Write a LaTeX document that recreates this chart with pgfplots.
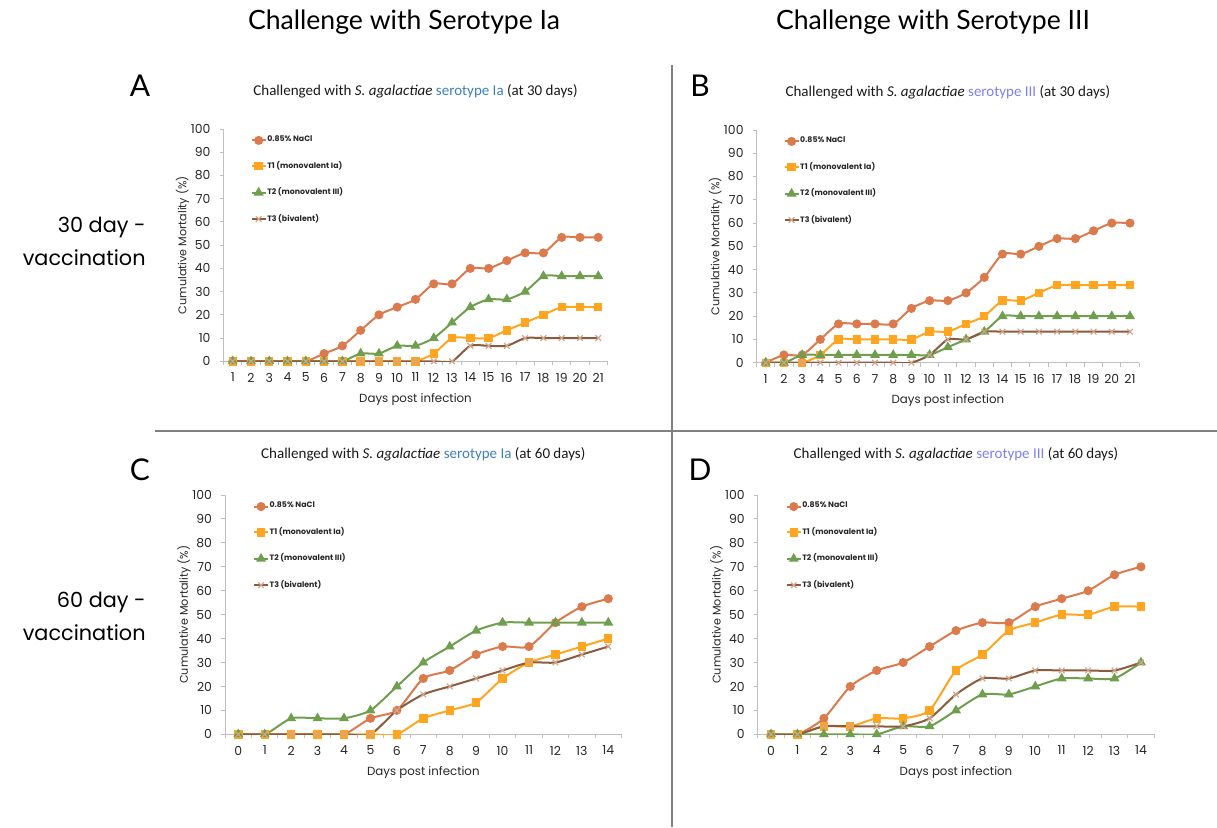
\documentclass[border=0pt]{standalone}
\usepackage{pgfplots}
\pgfplotsset{compat=1.18}
\usepackage{pgfplotstable}
\usepackage{fontspec}
\setmainfont{Poppins}
\newfontfamily\hdr{Lato}
\newfontfamily\ttl{Carlito}
\definecolor{cNaCl}{HTML}{DB7B4D}
\definecolor{cT1}{HTML}{FFA51F}
\definecolor{cT2}{HTML}{6E9E4E}
\definecolor{cT3}{HTML}{8B5B3D}
\definecolor{cT3m}{HTML}{D2A48C}
\definecolor{blueA}{HTML}{3F7FBF}
\definecolor{blueB}{HTML}{7F7FF5}
\definecolor{axgray}{HTML}{BFBFBF}

\pgfplotstableread{
day nacl t1 t2 t3
1 0 0 0 0
2 0 0 0 0
3 0 0 0 0
4 0 0 0 0
5 0 0 0 0
6 3.33 0 0 0
7 6.67 0 0 0
8 13.33 0 3.33 0
9 20 0 3.33 0
10 23.33 0 6.67 0
11 26.67 0 6.67 0
12 33.33 3.33 10 0
13 33.33 10 16.67 0
14 40 10 23.33 6.67
15 40 10 26.67 6.67
16 43.33 13.33 26.67 6.67
17 46.67 16.67 30 10
18 46.67 20 36.67 10
19 53.33 23.33 36.67 10
20 53.33 23.33 36.67 10
21 53.33 23.33 36.67 10
}\dataA
\pgfplotstableread{
day nacl t1 t2 t3
1 0 0 0 0
2 3.33 0 0 0
3 3.33 0 3.33 0
4 10 3.33 3.33 0
5 16.67 10 3.33 0
6 16.67 10 3.33 0
7 16.67 10 3.33 0
8 16.67 10 3.33 0
9 23.33 10 3.33 0
10 26.67 13.33 3.33 3.33
11 26.67 13.33 6.67 10
12 30 16.67 10 10
13 36.67 20 13.33 13.33
14 46.67 26.67 20 13.33
15 46.67 26.67 20 13.33
16 50 30 20 13.33
17 53.33 33.33 20 13.33
18 53.33 33.33 20 13.33
19 56.67 33.33 20 13.33
20 60 33.33 20 13.33
21 60 33.33 20 13.33
}\dataB
\pgfplotstableread{
day nacl t1 t2 t3
0 0 0 0 0
1 0 0 0 0
2 0 0 6.67 0
3 0 0 6.67 0
4 0 0 6.67 0
5 6.67 0 10 0
6 10 0 20 10
7 23.33 6.67 30 16.67
8 26.67 10 36.67 20
9 33.33 13.33 43.33 23.33
10 36.67 23.33 46.67 26.67
11 36.67 30 46.67 30
12 46.67 33.33 46.67 30
13 53.33 36.67 46.67 33.33
14 56.67 40 46.67 36.67
}\dataC
\pgfplotstableread{
day nacl t1 t2 t3
0 0 0 0 0
1 0 0 0 0
2 6.67 3.33 0 3.33
3 20 3.33 0 3.33
4 26.67 6.67 0 3.33
5 30 6.67 3.33 3.33
6 36.67 10 3.33 6.67
7 43.33 26.67 10 16.67
8 46.67 33.33 16.67 23.33
9 46.67 43.33 16.67 23.33
10 53.33 46.67 20 26.67
11 56.67 50 23.33 26.67
12 60 50 23.33 26.67
13 66.67 53.33 23.33 26.67
14 70 53.33 30 30
}\dataD

\pgfplotsset{
  panel/.style={
    scale only axis, anchor=south west,
    ymin=0, ymax=100, ytick={0,10,...,100},
    axis x line*=bottom, axis y line*=left,
    axis line style={draw=axgray, line width=0.6pt},
    tick align=outside, major tick length=2pt, minor tick length=2pt,
    tick style={draw=axgray, line width=0.5pt},
    major x tick style={draw=none},
    tick label style={font=\fontsize{6.2}{6.5}\selectfont, text=black!85},
    /pgf/number format/assume math mode=true,
    yticklabel style={xshift=-1pt},
    xticklabel style={yshift=-0.3pt},
    xlabel={Days post infection}, ylabel={Cumulative Mortality (\%)},
    every axis x label/.style={at={(axis description cs:0.5,0)}, anchor=center, yshift=-18.9pt, font=\fontsize{5.9}{6.5}\selectfont, text=black!85},
    every axis y label/.style={at={(axis description cs:0,0.5)}, xshift=-20.5pt, anchor=center, rotate=90, font=\fontsize{5.6}{6.5}\selectfont, text=black!85},
    title style={at={(axis description cs:0.5,1)}, anchor=center, yshift=13pt, font=\ttl\fontsize{7.5}{8}\selectfont, text=black!90},
    legend style={at={(0.07,0.975)}, anchor=north west, draw=none, fill=none,
      font=\fontsize{3.9}{4.2}\selectfont\bfseries, text=black!85, row sep=7.35pt, inner sep=0pt,
      nodes={inner sep=0.4pt}},
    legend cell align=left,
    legend image code/.code={\draw[#1, mark repeat=2, mark phase=2] plot coordinates {(0pt,0pt) (3.4pt,0pt) (6.8pt,0pt)};},
    every axis plot/.append style={line width=1pt, smooth, tension=0.4},
  },
  sNaCl/.style={color=cNaCl, mark=*, mark size=1.75pt, mark options={fill=cNaCl, draw=cNaCl}},
  sT1/.style={color=cT1, mark=square*, mark size=1.6pt, mark options={fill=cT1, draw=cT1}},
  sT2/.style={color=cT2, mark=triangle*, mark size=1.9pt, mark options={fill=cT2, draw=cT2}},
  sT3/.style={color=cT3, mark=x, mark size=2pt, mark options={draw=cT3m, line width=0.6pt}},
}

\begin{document}
\begin{tikzpicture}
\useasboundingbox (0,0) rectangle (608.5pt,413.5pt);

% headers
\node[font=\hdr\fontsize{13.3}{15}\selectfont] at (202pt,402.5pt) {Challenge with Serotype Ia};
\node[font=\hdr\fontsize{13.3}{15}\selectfont] at (466.5pt,402.5pt) {Challenge with Serotype III};
\node[align=right, anchor=east, inner sep=0pt, font=\fontsize{10.4}{16.5}\selectfont] at (73pt,293pt) {30 day -\\vaccination};
\node[align=right, anchor=east, inner sep=0pt, font=\fontsize{10.4}{16.5}\selectfont] at (73pt,105.5pt) {60 day -\\vaccination};
\node[font=\hdr\fontsize{15}{16}\selectfont] at (70pt,370.5pt) {A};
\node[font=\hdr\fontsize{15}{16}\selectfont] at (350pt,370.5pt) {B};
\node[font=\hdr\fontsize{15}{16}\selectfont] at (70pt,178.5pt) {C};
\node[font=\hdr\fontsize{15}{16}\selectfont] at (350pt,178.5pt) {D};

% dividers
\draw[line width=1pt, color=black!50] (336pt,381pt) -- (336pt,0pt);
\draw[line width=1pt, color=black!50] (77.5pt,198.15pt) -- (608.5pt,198.15pt);

% Panel A
\begin{axis}[panel, at={(111.8pt,232.85pt)}, width=191.9pt, height=116.15pt,
  xmin=0.5, xmax=21.5, xtick={1,...,21}, minor xtick={0.5,1.5,...,21.5},
  title={Challenged with \textit{S. agalactiae} \textcolor{blueA}{serotype Ia} (at 30 days)}]
\addplot[sNaCl] table[x=day,y=nacl]{\dataA}; \addlegendentry{0.85\% NaCl}
\addplot[sT1] table[x=day,y=t1]{\dataA}; \addlegendentry{T1 (monovalent Ia)}
\addplot[sT2] table[x=day,y=t2]{\dataA}; \addlegendentry{T2 (monovalent III)}
\addplot[sT3] table[x=day,y=t3]{\dataA}; \addlegendentry{T3 (bivalent)}
\end{axis}

% Panel B
\begin{axis}[panel, at={(378.3pt,232.15pt)}, width=191.25pt, height=116.35pt,
  xmin=0.5, xmax=21.5, xtick={1,...,21}, minor xtick={0.5,1.5,...,21.5},
  title={Challenged with \textit{S. agalactiae} \textcolor{blueB}{serotype III} (at 30 days)}]
\addplot[sNaCl] table[x=day,y=nacl]{\dataB}; \addlegendentry{0.85\% NaCl}
\addplot[sT1] table[x=day,y=t1]{\dataB}; \addlegendentry{T1 (monovalent Ia)}
\addplot[sT2] table[x=day,y=t2]{\dataB}; \addlegendentry{T2 (monovalent III)}
\addplot[sT3] table[x=day,y=t3]{\dataB}; \addlegendentry{T3 (bivalent)}
\end{axis}

% Panel C
\begin{axis}[panel, at={(112.55pt,46.35pt)}, width=198.2pt, height=119.65pt,
  xmin=-0.5, xmax=14.5, xtick={0,...,14}, minor xtick={-0.5,0.5,...,14.5},
  title style={yshift=1.5pt},
  title={Challenged with \textit{S. agalactiae} \textcolor{blueA}{serotype Ia} (at 60 days)}]
\addplot[sNaCl] table[x=day,y=nacl]{\dataC}; \addlegendentry{0.85\% NaCl}
\addplot[sT1] table[x=day,y=t1]{\dataC}; \addlegendentry{T1 (monovalent Ia)}
\addplot[sT2] table[x=day,y=t2]{\dataC}; \addlegendentry{T2 (monovalent III)}
\addplot[sT3] table[x=day,y=t3]{\dataC}; \addlegendentry{T3 (bivalent)}
\end{axis}

% Panel D
\begin{axis}[panel, at={(378.9pt,46.35pt)}, width=198.2pt, height=119.65pt,
  xmin=-0.5, xmax=14.5, xtick={0,...,14}, minor xtick={-0.5,0.5,...,14.5},
  title style={yshift=1.5pt},
  title={Challenged with \textit{S. agalactiae} \textcolor{blueB}{serotype III} (at 60 days)}]
\addplot[sNaCl] table[x=day,y=nacl]{\dataD}; \addlegendentry{0.85\% NaCl}
\addplot[sT1] table[x=day,y=t1]{\dataD}; \addlegendentry{T1 (monovalent Ia)}
\addplot[sT2] table[x=day,y=t2]{\dataD}; \addlegendentry{T2 (monovalent III)}
\addplot[sT3] table[x=day,y=t3]{\dataD}; \addlegendentry{T3 (bivalent)}
\end{axis}
\end{tikzpicture}
\end{document}
